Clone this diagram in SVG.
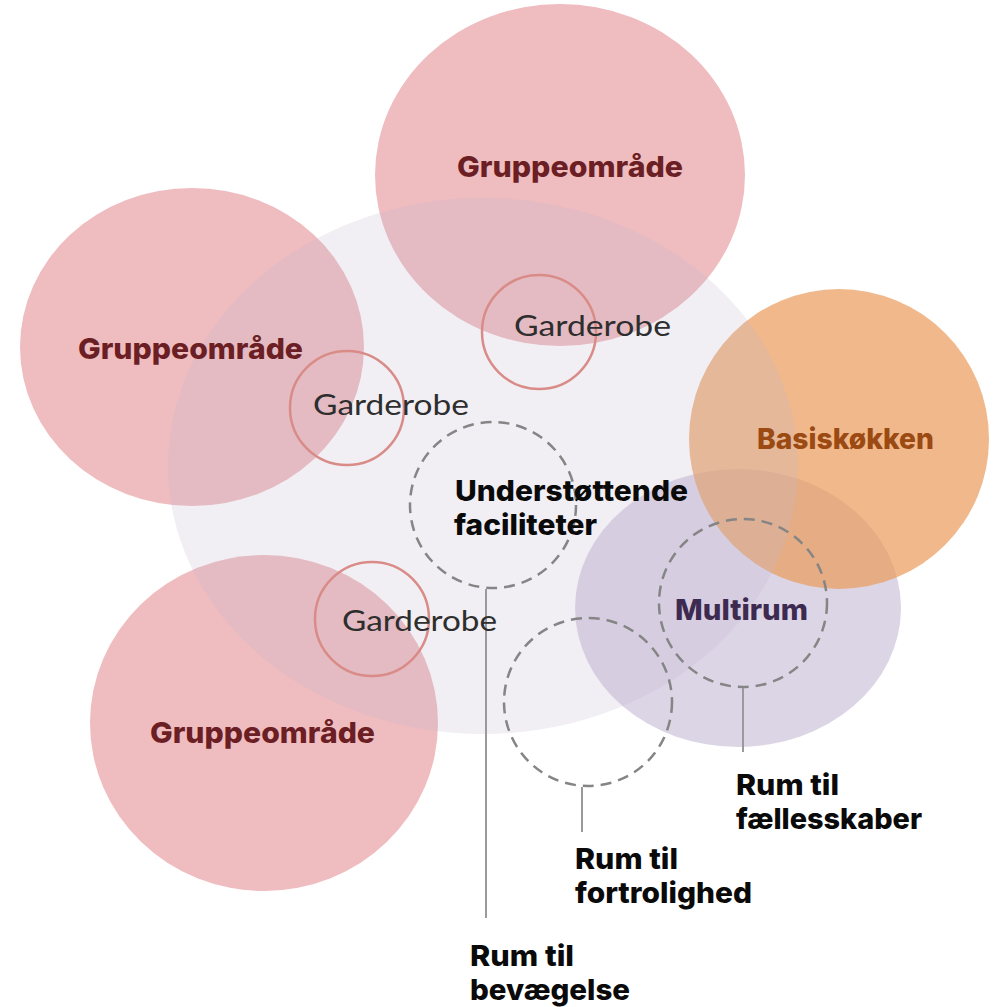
<svg xmlns="http://www.w3.org/2000/svg" width="994" height="1007" viewBox="0 0 994 1007">
<style>
.pink{fill:#efbcbf}
.lav{fill:#c2b9cf;fill-opacity:0.23}
.purple{fill:#dcd5e5}
.orange{fill:#e99a5a;fill-opacity:0.7}
.gard{fill:none;stroke:#d98c87;stroke-width:2.5}
.dash{fill:none;stroke:#858585;stroke-width:2.5;stroke-dasharray:11 7}
.lead{stroke:#9a9a9a;stroke-width:2;fill:none}
.b{font-family:Inter,Lato,"Liberation Sans",sans-serif;font-weight:800;font-size:29px}
.g{font-family:Lato,"Open Sans","Liberation Sans",sans-serif;font-weight:400;font-size:28px;fill:#2e2e2e}
.grp{fill:#6b1f24}
.blk{fill:#0a0a0a}
</style>
<rect width="994" height="1007" fill="#ffffff"/>
<g id="gruppe-top"><ellipse class="pink" cx="560" cy="175" rx="185" ry="171"/></g>
<g id="gruppe-left"><ellipse class="pink" cx="192" cy="347" rx="172" ry="159"/></g>
<g id="gruppe-bottom"><ellipse class="pink" cx="264" cy="723" rx="174" ry="168"/></g>
<g id="multirum-area"><ellipse class="purple" cx="738" cy="608" rx="163" ry="139"/></g>
<g id="basiskokken"><circle class="orange" cx="839" cy="439" r="150"/></g>
<g id="faelles-area"><ellipse class="lav" cx="483" cy="466" rx="315" ry="268"/></g>
<g id="garderobe-1"><circle class="gard" cx="539" cy="332" r="57"/></g>
<g id="garderobe-2"><circle class="gard" cx="347" cy="408" r="57"/></g>
<g id="garderobe-3"><circle class="gard" cx="372" cy="619" r="57"/></g>
<g id="understottende"><circle class="dash" cx="493" cy="505" r="83"/></g>
<g id="fortrolighed"><circle class="dash" cx="588" cy="702" r="84"/></g>
<g id="multirum"><circle class="dash" cx="743" cy="603" r="84"/></g>
<g id="connectors">
<line class="lead" x1="486" y1="589" x2="486" y2="918"/>
<line class="lead" x1="582" y1="787" x2="582" y2="832"/>
<line class="lead" x1="743" y1="688" x2="743" y2="752"/>
</g>
<g id="labels">
<text class="b grp" x="457" y="177" textLength="226" lengthAdjust="spacingAndGlyphs">Gruppeområde</text>
<text class="b grp" x="78" y="359" textLength="225" lengthAdjust="spacingAndGlyphs">Gruppeområde</text>
<text class="b grp" x="150" y="743" textLength="225" lengthAdjust="spacingAndGlyphs">Gruppeområde</text>
<text class="g" x="514" y="336" textLength="157" lengthAdjust="spacingAndGlyphs">Garderobe</text>
<text class="g" x="313" y="415" textLength="156" lengthAdjust="spacingAndGlyphs">Garderobe</text>
<text class="g" x="342" y="631" textLength="155" lengthAdjust="spacingAndGlyphs">Garderobe</text>
<text class="b blk" x="455" y="501" textLength="233" lengthAdjust="spacingAndGlyphs">Understøttende</text>
<text class="b blk" x="454" y="535" textLength="143" lengthAdjust="spacingAndGlyphs">faciliteter</text>
<text class="b" x="757" y="449" fill="#9a4a12" textLength="177" lengthAdjust="spacingAndGlyphs">Basiskøkken</text>
<text class="b" x="675" y="620" fill="#3d2a50" textLength="133" lengthAdjust="spacingAndGlyphs">Multirum</text>
<text class="b blk" x="736" y="795" textLength="103" lengthAdjust="spacingAndGlyphs">Rum til</text>
<text class="b blk" x="736" y="829" textLength="186" lengthAdjust="spacingAndGlyphs">fællesskaber</text>
<text class="b blk" x="575" y="869" textLength="103" lengthAdjust="spacingAndGlyphs">Rum til</text>
<text class="b blk" x="575" y="903" textLength="177" lengthAdjust="spacingAndGlyphs">fortrolighed</text>
<text class="b blk" x="470" y="966" textLength="104" lengthAdjust="spacingAndGlyphs">Rum til</text>
<text class="b blk" x="470" y="1000" textLength="160" lengthAdjust="spacingAndGlyphs">bevægelse</text>
</g>
</svg>
